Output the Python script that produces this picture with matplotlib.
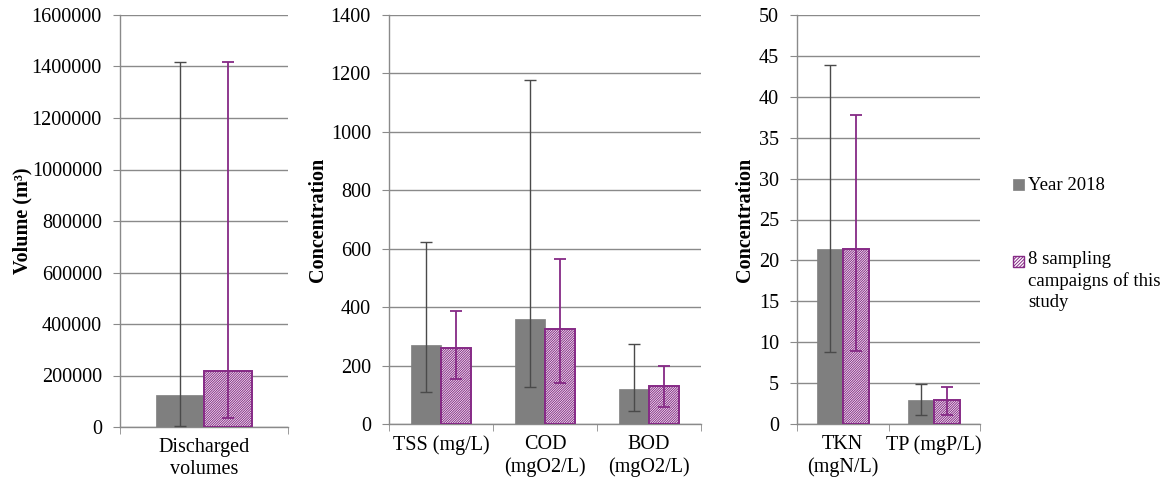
import matplotlib
matplotlib.use("Agg")
import matplotlib.pyplot as plt
import numpy as np
from matplotlib.patches import Rectangle
from matplotlib.ticker import FormatStrFormatter

plt.rcParams['font.family'] = ['Liberation Serif', 'DejaVu Serif']
plt.rcParams['hatch.linewidth'] = 0.7

# ---- data ----
vol_cats = ["Discharged\nvolumes"]
vol_year = [123000]
vol_year_lo = [5000]
vol_year_hi = [1417000]
vol_study = [216000]
vol_study_lo = [36000]
vol_study_hi = [1417000]

c1_cats = ["TSS (mg/L)", "COD\n(mgO2/L)", "BOD\n(mgO2/L)"]
c1_year = [270, 359, 120]
c1_year_lo = [110, 127, 44]
c1_year_hi = [624, 1177, 275]
c1_study = [259, 324, 129]
c1_study_lo = [154, 141, 57]
c1_study_hi = [387, 564, 200]

c2_cats = ["TKN\n(mgN/L)", "TP (mgP/L)"]
c2_year = [21.4, 2.9]
c2_year_lo = [8.85, 1.15]
c2_year_hi = [43.9, 4.83]
c2_study = [21.4, 2.9]
c2_study_lo = [8.9, 1.15]
c2_study_hi = [37.8, 4.5]

legend_labels = ["Year 2018", "8 sampling\ncampaigns of this\nstudy"]

GRAY = "#7f7f7f"
PURPLE = "#862a86"
GRID = "#8a8a8a"
FS = 14.5
LFS = 13.5
HATCH = "/" * 14

fig = plt.figure(figsize=(11.74, 4.88), dpi=100)

def panel(rect, cats, yv, ylo, yhi, sv, slo, shi, ymax, ystep, ylabel, lab_x):
    ax = fig.add_axes(rect)
    n = len(cats)
    x = np.arange(n)
    w = 0.285
    yv = np.array(yv); sv = np.array(sv)
    ax.bar(x - w / 2, yv, w, color=GRAY, edgecolor=GRAY, linewidth=0.5, zorder=3)
    ax.bar(x + w / 2, sv, w, facecolor="white", edgecolor=PURPLE, hatch=HATCH,
           linewidth=1.4, zorder=3)
    ax.errorbar(x - w / 2, yv, yerr=[yv - np.array(ylo), np.array(yhi) - yv], fmt="none",
                ecolor="#4a4a4a", elinewidth=1.0, capsize=4.5, capthick=1.0, zorder=4)
    ax.errorbar(x + w / 2, sv, yerr=[sv - np.array(slo), np.array(shi) - sv], fmt="none",
                ecolor=PURPLE, elinewidth=1.3, capsize=4.5, capthick=1.3, zorder=4)
    ax.set_xlim(-0.5, n - 0.5)
    ax.set_ylim(0, ymax)
    ax.set_yticks(np.arange(0, ymax + ystep / 2, ystep))
    ax.yaxis.set_major_formatter(FormatStrFormatter("%d"))
    ax.set_xticks(x)
    ax.set_xticklabels(cats, fontsize=FS, linespacing=1.2)
    ax.set_xticks(np.arange(-0.5, n, 1.0), minor=True)
    ax.tick_params(axis="x", which="major", length=0, pad=8)
    ax.tick_params(axis="x", which="minor", length=5, color=GRID, direction="out")
    ax.tick_params(axis="y", length=5, color=GRID, direction="out", labelsize=FS, pad=8)
    ax.yaxis.grid(True, color=GRID, linewidth=1.0, zorder=0)
    ax.set_axisbelow(True)
    for s in ("top", "right"):
        ax.spines[s].set_visible(False)
    for s in ("left", "bottom"):
        ax.spines[s].set_color(GRID)
        ax.spines[s].set_linewidth(1.0)
    ax.set_ylabel(ylabel, fontsize=14.5, fontweight="bold", va="center")
    ax.yaxis.set_label_coords(lab_x, 0.5)
    return ax

H = 488.0
W = 1174.0
panel([120 / W, 1 - 427 / H, 168 / W, 412 / H], vol_cats, vol_year, vol_year_lo, vol_year_hi,
      vol_study, vol_study_lo, vol_study_hi, 1600000, 200000, "Volume (m³)", (22 - 120) / 168)
panel([389 / W, 1 - 424 / H, 312 / W, 409 / H], c1_cats, c1_year, c1_year_lo, c1_year_hi,
      c1_study, c1_study_lo, c1_study_hi, 1400, 200, "Concentration", (318 - 389) / 312)
panel([797 / W, 1 - 424 / H, 183 / W, 409 / H], c2_cats, c2_year, c2_year_lo, c2_year_hi,
      c2_study, c2_study_lo, c2_study_hi, 50, 5, "Concentration", (745 - 797) / 183)

# legend (manual, figure coordinates)
sq = 11
fig.patches.append(Rectangle((1013 / W, 1 - 190 / H), sq / W, sq / H, transform=fig.transFigure,
                             facecolor=GRAY, edgecolor=GRAY, linewidth=0.5))
fig.text(1028 / W, 1 - 185 / H, legend_labels[0], fontsize=LFS, ha="left", va="center")
fig.patches.append(Rectangle((1013 / W, 1 - 267 / H), sq / W, sq / H, transform=fig.transFigure,
                             facecolor="white", edgecolor=PURPLE, hatch="/" * 10, linewidth=1.0))
fig.text(1028 / W, 1 - 251 / H, legend_labels[1], fontsize=LFS, ha="left", va="top",
         linespacing=1.3)

fig.savefig("out.png", dpi=100)
